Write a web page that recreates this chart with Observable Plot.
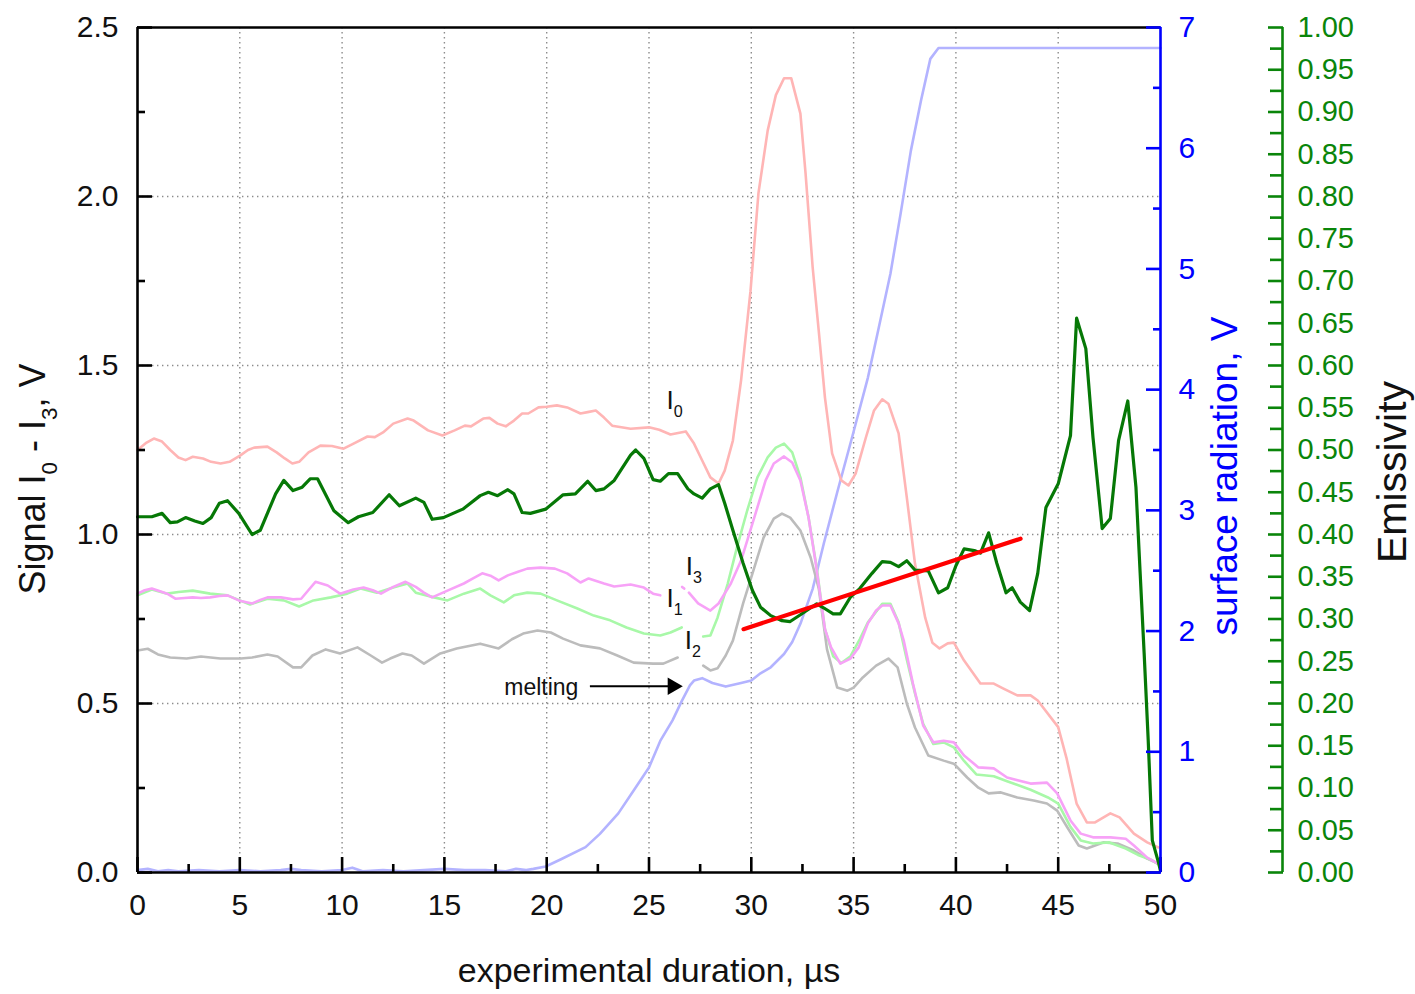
<!DOCTYPE html>
<html>
<head>
<meta charset="utf-8">
<script src="https://cdn.jsdelivr.net/npm/d3@7"></script>
<script src="https://cdn.jsdelivr.net/npm/@observablehq/plot@0.6"></script>
<style>
  html, body { margin: 0; padding: 0; background: #fff; }
  #chart svg { display: block; }
</style>
</head>
<body>
<div id="chart"></div>
<script>
// ---------------- DATA (time in µs, values in native units) ----------------
// Signal I0 (V, left axis)
const I0 = [[0,1.25],[0.4,1.27],[0.8,1.284],[1.2,1.275],[1.6,1.25],[2.0,1.228],[2.35,1.22],[2.7,1.23],[3.2,1.225],[3.6,1.215],[4.06,1.21],[4.5,1.215],[5.03,1.234],[5.4,1.25],[5.7,1.257],[6.35,1.26],[6.8,1.243],[7.2,1.225],[7.57,1.21],[7.9,1.215],[8.36,1.243],[8.94,1.263],[9.5,1.262],[10.07,1.254],[10.56,1.269],[11.24,1.29],[11.6,1.288],[12.0,1.302],[12.5,1.328],[13.2,1.343],[13.5,1.337],[14.2,1.308],[14.9,1.293],[15.5,1.308],[16.0,1.322],[16.3,1.32],[16.9,1.343],[17.2,1.345],[17.6,1.328],[18.0,1.32],[18.4,1.337],[18.8,1.358],[19.1,1.358],[19.6,1.376],[20.0,1.378],[20.5,1.382],[21.0,1.376],[21.65,1.358],[22.0,1.362],[22.4,1.367],[22.8,1.346],[23.2,1.322],[24.1,1.313],[25.0,1.317],[25.5,1.31],[26.05,1.296],[26.8,1.305],[27.2,1.269],[27.6,1.219],[28.0,1.169],[28.4,1.151],[28.7,1.189],[29.1,1.278],[29.5,1.456],[29.96,1.72],[30.35,2.01],[30.8,2.195],[31.2,2.30],[31.6,2.35],[31.95,2.35],[32.4,2.245],[32.65,2.07],[33.0,1.79],[33.3,1.60],[33.6,1.405],[33.95,1.24],[34.4,1.16],[34.75,1.145],[35.1,1.18],[35.6,1.287],[36.0,1.367],[36.4,1.40],[36.7,1.387],[37.2,1.299],[37.6,1.11],[38.0,0.914],[38.5,0.754],[38.85,0.68],[39.2,0.663],[39.6,0.678],[39.9,0.68],[40.4,0.627],[41.2,0.559],[41.85,0.559],[42.3,0.545],[43.0,0.524],[43.65,0.524],[44.0,0.509],[45.0,0.43],[45.4,0.34],[45.9,0.204],[46.4,0.148],[46.8,0.148],[47.55,0.175],[48.0,0.163],[48.7,0.115],[49.35,0.089],[49.9,0.074]];

// Signal I1 (V)
const I1 = [[0,0.82],[0.7,0.837],[1.45,0.825],[2.0,0.83],[2.7,0.834],[3.55,0.825],[4.4,0.82],[5.0,0.805],[5.5,0.793],[6.35,0.81],[7.15,0.805],[7.9,0.787],[8.6,0.805],[9.45,0.814],[10.25,0.825],[10.9,0.84],[11.7,0.828],[12.5,0.843],[13.2,0.855],[13.6,0.828],[14.5,0.814],[15.15,0.805],[15.95,0.825],[16.75,0.84],[17.25,0.82],[17.9,0.799],[18.4,0.82],[19.05,0.828],[19.7,0.825],[20.5,0.805],[21.5,0.781],[22.3,0.76],[23.1,0.746],[23.9,0.725],[24.75,0.707],[25.55,0.701],[26.05,0.71],[26.6,0.725],[27.1,null],[27.65,0.698],[28.0,0.701],[28.35,0.754],[28.85,0.855],[29.3,0.962],[29.8,1.071],[30.3,1.169],[30.8,1.228],[31.2,1.257],[31.6,1.269],[32.0,1.243],[32.4,1.169],[32.8,1.05],[33.2,0.9],[33.6,0.72],[34.0,0.64],[34.4,0.62],[34.85,0.64],[35.3,0.69],[35.7,0.74],[36.4,0.795],[36.8,0.795],[37.2,0.74],[37.6,0.63],[38.0,0.53],[38.4,0.44],[38.9,0.38],[39.4,0.385],[39.9,0.37],[40.4,0.33],[41.0,0.29],[41.85,0.285],[42.5,0.27],[43.65,0.245],[44.5,0.222],[45.0,0.204],[45.6,0.135],[46.1,0.095],[46.7,0.086],[47.5,0.089],[48.3,0.071],[48.9,0.052],[49.6,0.036],[50,0.02]];

// Signal I2 (V)
const I2 = [[0,0.657],[0.5,0.662],[1.0,0.645],[1.6,0.636],[2.4,0.633],[3.1,0.639],[4.05,0.633],[5.05,0.633],[5.6,0.636],[6.35,0.645],[6.85,0.639],[7.6,0.607],[8.0,0.607],[8.55,0.642],[9.2,0.66],[9.9,0.648],[10.75,0.666],[11.4,0.642],[11.95,0.621],[12.35,0.633],[12.95,0.648],[13.4,0.642],[14.0,0.618],[14.8,0.648],[15.6,0.663],[16.75,0.677],[17.65,0.663],[18.3,0.69],[18.85,0.707],[19.55,0.716],[20.2,0.71],[20.8,0.692],[21.65,0.672],[22.6,0.663],[23.45,0.642],[24.25,0.621],[25.2,0.618],[25.7,0.618],[26.4,0.636],[27.0,null],[27.65,0.612],[28.0,0.598],[28.35,0.604],[28.75,0.642],[29.1,0.686],[29.6,0.796],[30.1,0.893],[30.6,0.991],[31.1,1.047],[31.5,1.062],[31.9,1.05],[32.4,1.012],[32.9,0.932],[33.3,0.84],[33.7,0.66],[34.2,0.547],[34.7,0.538],[35.0,0.547],[35.45,0.577],[36.1,0.612],[36.7,0.633],[37.15,0.607],[37.6,0.5],[38.0,0.429],[38.65,0.346],[39.4,0.331],[39.9,0.322],[40.55,0.281],[41.1,0.251],[41.6,0.234],[42.2,0.237],[43.0,0.222],[43.8,0.213],[44.45,0.204],[44.95,0.183],[45.45,0.133],[46.0,0.08],[46.4,0.071],[47.2,0.089],[47.9,0.086],[48.7,0.065],[49.35,0.041],[49.85,0.027]];

// Signal I3 (V)
const I3 = [[0,0.825],[0.35,0.835],[0.7,0.84],[1.1,0.832],[1.45,0.825],[1.85,0.81],[2.3,0.812],[2.7,0.814],[3.1,0.812],[3.55,0.814],[4.0,0.818],[4.4,0.82],[4.95,0.805],[5.6,0.796],[6.0,0.806],[6.35,0.814],[7.0,0.814],[7.6,0.808],[8.0,0.81],[8.35,0.835],[8.7,0.86],[9.3,0.849],[9.9,0.825],[10.55,0.837],[11.05,0.843],[11.5,0.835],[11.9,0.825],[12.5,0.845],[13.1,0.86],[13.6,0.845],[14.0,0.828],[14.4,0.814],[15.15,0.834],[15.95,0.855],[16.4,0.87],[16.85,0.885],[17.25,0.878],[17.65,0.864],[18.1,0.879],[18.6,0.89],[19.05,0.899],[19.7,0.902],[20.4,0.899],[21.0,0.885],[21.65,0.858],[22.05,0.87],[22.8,0.855],[23.3,0.846],[24.1,0.852],[24.75,0.843],[25.2,0.825],[25.55,0.82],[26.1,null],[26.62,0.845],[26.72,0.84],[26.85,null],[26.95,0.828],[27.4,0.796],[28.0,0.775],[28.4,0.796],[29.0,0.855],[29.5,0.923],[30.1,1.041],[30.7,1.16],[31.1,1.21],[31.6,1.231],[32.0,1.213],[32.4,1.16],[32.8,1.05],[33.15,0.914],[33.6,0.72],[33.9,0.666],[34.35,0.618],[34.85,0.633],[35.25,0.666],[35.7,0.737],[36.1,0.775],[36.4,0.79],[36.8,0.79],[37.2,0.737],[37.45,0.686],[37.9,0.559],[38.4,0.435],[38.9,0.385],[39.4,0.39],[39.9,0.385],[40.4,0.346],[41.1,0.311],[41.85,0.308],[42.5,0.281],[43.65,0.263],[44.45,0.266],[44.95,0.234],[45.6,0.154],[46.1,0.115],[46.7,0.104],[47.55,0.104],[48.3,0.10],[48.7,0.08],[49.35,0.044],[49.85,0.027]];

// Surface radiation (V, blue right axis 0–7)
const surfaceRadiation = [[0,0.02],[0.5,0.03],[1,0.01],[1.5,0.02],[2,0.01],[3,0.02],[4,0.01],[5,0.02],[6,0.01],[7,0.02],[7.5,0.03],[8,0.02],[9,0.01],[10,0.02],[10.5,0.04],[11,0.01],[12,0.02],[13,0.01],[14,0.02],[15,0.03],[16,0.02],[17,0.02],[18,0.01],[18.5,0.03],[19,0.02],[19.35,0.03],[19.95,0.05],[20.7,0.11],[21.9,0.21],[22.6,0.32],[23.5,0.49],[24.25,0.68],[25.0,0.87],[25.55,1.09],[26.15,1.26],[26.6,1.42],[27.0,1.55],[27.2,1.59],[27.6,1.61],[28.1,1.57],[28.75,1.54],[29.5,1.57],[30.0,1.59],[30.45,1.65],[30.95,1.70],[31.6,1.81],[32.0,1.91],[32.4,2.06],[33.0,2.35],[33.55,2.73],[34.2,3.15],[34.95,3.62],[35.7,4.10],[36.2,4.49],[36.8,4.96],[37.3,5.46],[37.8,5.98],[38.3,6.40],[38.75,6.74],[39.15,6.83],[50,6.83]];

// Emissivity (0–1, green far-right axis)
const emissivity = [[0,0.421],[0.7,0.421],[1.2,0.425],[1.6,0.414],[1.95,0.415],[2.35,0.42],[2.8,0.416],[3.2,0.413],[3.6,0.42],[4.0,0.437],[4.4,0.44],[4.95,0.425],[5.6,0.40],[6.0,0.405],[6.75,0.448],[7.15,0.464],[7.6,0.452],[8.05,0.456],[8.45,0.466],[8.8,0.466],[9.6,0.428],[10.3,0.414],[10.8,0.421],[11.5,0.426],[12.3,0.447],[12.8,0.434],[13.6,0.443],[14.0,0.438],[14.4,0.418],[14.95,0.42],[15.9,0.43],[16.75,0.446],[17.15,0.45],[17.6,0.446],[18.1,0.453],[18.4,0.448],[18.8,0.426],[19.2,0.425],[19.95,0.43],[20.8,0.447],[21.4,0.448],[22.0,0.463],[22.4,0.452],[22.8,0.454],[23.3,0.464],[24.1,0.494],[24.35,0.50],[24.75,0.49],[25.2,0.465],[25.55,0.463],[25.95,0.472],[26.4,0.472],[26.9,0.454],[27.2,0.448],[27.6,0.443],[28.0,0.454],[28.4,0.459],[28.7,0.437],[29.1,0.405],[29.6,0.366],[30.05,0.334],[30.45,0.314],[30.95,0.304],[31.5,0.298],[31.9,0.297],[32.4,0.305],[33.2,0.318],[33.55,0.313],[34.0,0.306],[34.35,0.306],[34.85,0.326],[35.3,0.336],[35.9,0.354],[36.4,0.368],[36.8,0.367],[37.2,0.362],[37.6,0.369],[38.0,0.358],[38.65,0.357],[39.15,0.331],[39.6,0.337],[40.0,0.363],[40.4,0.383],[40.9,0.381],[41.2,0.378],[41.6,0.402],[42.0,0.366],[42.45,0.331],[42.75,0.337],[43.15,0.32],[43.6,0.31],[44.0,0.354],[44.4,0.432],[45.0,0.46],[45.2,0.479],[45.6,0.517],[45.9,0.656],[46.35,0.62],[46.7,0.515],[47.15,0.407],[47.55,0.419],[47.95,0.511],[48.4,0.558],[48.8,0.456],[49.0,0.357],[49.2,0.26],[49.4,0.156],[49.6,0.038],[49.9,0.012],[50,0.002]];

// Linear trend of emissivity (red)
const emissivityTrend = [[29.62,0.288],[43.16,0.395]];

// Series labels and annotation
const seriesLabels = [
  {name: "I_0", t: 25.85, v: 1.396},
  {name: "I_3", t: 26.8, v: 0.906},
  {name: "I_1", t: 25.85, v: 0.81},
  {name: "I_2", t: 26.75, v: 0.686}
];
const meltingNote = [{text: "melting", t: 21.55, v: 0.547}];
const meltingArrow = [{t1: 22.6, t2: 26.55, v: 0.551}];

// Ticks
const xMajor = [0, 5, 10, 15, 20, 25, 30, 35, 40, 45, 50];
const xMinor = [2.5, 7.5, 12.5, 17.5, 22.5, 27.5, 32.5, 37.5, 42.5, 47.5];
const yMajor = [0, 0.5, 1.0, 1.5, 2.0, 2.5];
const yMinor = [0.25, 0.75, 1.25, 1.75, 2.25];
const radMajor = [0, 1, 2, 3, 4, 5, 6, 7];
const radMinor = [0.5, 1.5, 2.5, 3.5, 4.5, 5.5, 6.5];
const emisMajor = [0, 0.05, 0.10, 0.15, 0.20, 0.25, 0.30, 0.35, 0.40, 0.45, 0.50, 0.55, 0.60, 0.65, 0.70, 0.75, 0.80, 0.85, 0.90, 0.95, 1.00];
const emisMinor = [0.025, 0.075, 0.125, 0.175, 0.225, 0.275, 0.325, 0.375, 0.425, 0.475, 0.525, 0.575, 0.625, 0.675, 0.725, 0.775, 0.825, 0.875, 0.925, 0.975];

// Titles
const xTitle = "experimental duration, µs";
const yTitle = "Signal I_0 - I_3, V";
const radTitle = "surface radiation, V";
const emisTitle = "Emissivity";

// ---------------- CHART ----------------
const Y_MAX = 2.5, RAD_MAX = 7, EMIS_MAX = 1;
const radToY = v => v * Y_MAX / RAD_MAX;
const emisToY = e => e * Y_MAX / EMIS_MAX;
const FONT = "'Liberation Sans', Arial, Helvetica, sans-serif";
const TICK_FS = 30;
const COL = {
  i0: "#ffb5b5", i1: "#a8f8a8", i2: "#bcbcbc", i3: "#f7a2f7",
  rad: "#b3b3ff", emis: "#067806", fit: "#ff0000",
  blue: "#0000ff", green: "#0a850a"
};
const tx = d => d[0];
const grid = {stroke: "#8c8c8c", strokeOpacity: 1, strokeWidth: 1.4, strokeDasharray: "1.4,3.6"};

const chart = Plot.plot({
  width: 1415,
  height: 994,
  marginLeft: 137,
  marginRight: 255,
  marginTop: 27,
  marginBottom: 122,
  x: {domain: [0, 50]},
  y: {domain: [0, 2.5]},
  style: {fontFamily: FONT, fontSize: "28px", background: "#fff", color: "#000", overflow: "visible"},
  marks: [
    Plot.gridX(xMajor.slice(1, -1), grid),
    Plot.gridY(yMajor.slice(1, -1), grid),

    Plot.line(surfaceRadiation, {x: tx, y: d => radToY(d[1]), stroke: COL.rad, strokeWidth: 2.6}),
    Plot.line(I0, {x: tx, y: d => d[1], stroke: COL.i0, strokeWidth: 2.6}),
    Plot.line(I2, {x: tx, y: d => d[1], stroke: COL.i2, strokeWidth: 2.6}),
    Plot.line(I1, {x: tx, y: d => d[1], stroke: COL.i1, strokeWidth: 2.6}),
    Plot.line(I3, {x: tx, y: d => d[1], stroke: COL.i3, strokeWidth: 2.6}),
    Plot.line(emissivity, {x: tx, y: d => emisToY(d[1]), stroke: COL.emis, strokeWidth: 3.2}),
    Plot.line(emissivityTrend, {x: tx, y: d => emisToY(d[1]), stroke: COL.fit, strokeWidth: 4.2}),

    Plot.text(seriesLabels, {x: "t", y: "v", text: "name", textAnchor: "start", fontSize: 26, fill: "#111"}),
    Plot.text(meltingNote, {x: "t", y: "v", text: "text", textAnchor: "end", fontSize: 23, fill: "#111"}),
    Plot.link(meltingArrow, {x1: "t1", y1: "v", x2: "t2", y2: "v", stroke: "#000", strokeWidth: 2, dx: -10}),
    Plot.dot(meltingArrow, {x: "t2", y: "v", symbol: "triangle", rotate: 90, r: 6.5, fill: "#000", stroke: "none", dx: -8}),

    // frame (black)
    Plot.ruleX([0], {stroke: "#000", strokeWidth: 2.6}),
    Plot.ruleY([0, 2.5], {stroke: "#000", strokeWidth: 2.6}),

    // left axis
    Plot.axisY(yMajor, {anchor: "left", tickSize: -15, strokeWidth: 2.6, fill: "none", label: null}),
    Plot.axisY(yMinor, {anchor: "left", tickSize: -8, strokeWidth: 2.6, fill: "none", label: null}),
    Plot.axisY(yMajor, {anchor: "left", tickSize: 0, tickPadding: 19, tickFormat: d3.format(".1f"), fontSize: TICK_FS, fill: "#111", label: null}),

    // bottom axis
    Plot.axisX(xMajor, {anchor: "bottom", tickSize: -15, strokeWidth: 2.6, fill: "none", label: null}),
    Plot.axisX(xMinor, {anchor: "bottom", tickSize: -8, strokeWidth: 2.6, fill: "none", label: null}),
    Plot.axisX(xMajor, {anchor: "bottom", tickSize: 0, tickPadding: 21, tickFormat: d3.format("d"), fontSize: TICK_FS, fill: "#111", label: null}),

    // blue right axis (surface radiation)
    Plot.ruleX([50], {stroke: COL.blue, strokeWidth: 2.6}),
    Plot.axisY(radMajor.map(radToY), {anchor: "right", tickSize: -15, stroke: COL.blue, strokeWidth: 2.6, fill: "none", label: null}),
    Plot.axisY(radMinor.map(radToY), {anchor: "right", tickSize: -8, stroke: COL.blue, strokeWidth: 2.6, fill: "none", label: null}),
    Plot.axisY(radMajor.map(radToY), {anchor: "right", tickSize: 0, tickPadding: 18, fill: COL.blue, fontSize: TICK_FS, label: null,
      tickFormat: d => d3.format("d")(Math.round(d * RAD_MAX / Y_MAX))}),

    // green far-right axis (emissivity)
    Plot.ruleX([50], {dx: 122, stroke: COL.green, strokeWidth: 2.6}),
    Plot.axisY(emisMajor.map(emisToY), {anchor: "right", dx: 122, tickSize: -15, stroke: COL.green, strokeWidth: 2.6, fill: "none", label: null}),
    Plot.axisY(emisMinor.map(emisToY), {anchor: "right", dx: 122, tickSize: -13, stroke: COL.green, strokeWidth: 2.6, fill: "none", label: null}),
    Plot.axisY(emisMajor.map(emisToY), {anchor: "right", dx: 122, tickSize: 0, tickPadding: 15, fill: COL.green, fontSize: TICK_FS - 1, label: null,
      tickFormat: d => d3.format(".2f")(d * EMIS_MAX / Y_MAX)}),

    // axis titles
    Plot.text([xTitle], {frameAnchor: "bottom", textAnchor: "middle", dy: 109, fontSize: 34, fill: "#111"}),
    Plot.text([yTitle], {frameAnchor: "left", textAnchor: "middle", rotate: -90, dx: -104, dy: 29, fontSize: 36, fill: "#111"}),
    Plot.text([radTitle], {frameAnchor: "right", textAnchor: "middle", rotate: -90, dx: 65, dy: 26, fontSize: 37, fill: COL.blue}),
    Plot.text([emisTitle], {frameAnchor: "right", textAnchor: "middle", rotate: -90, dx: 232, dy: 22, fontSize: 41, fill: "#111"})
  ]
});

// Render "_d" markers as real subscript text
function subscriptify(svg) {
  const NS = "http://www.w3.org/2000/svg";
  svg.querySelectorAll("text").forEach(el => {
    const s = el.textContent;
    if (!/_\d/.test(s)) return;
    const fs = parseFloat(getComputedStyle(el).fontSize) || 28;
    const shift = 0.32 * fs;
    const parts = s.split(/_(\d)/);
    el.textContent = "";
    let down = false;
    parts.forEach((p, i) => {
      if (!p) return;
      const ts = document.createElementNS(NS, "tspan");
      ts.textContent = p;
      if (i % 2 === 1) {
        ts.setAttribute("font-size", (0.62 * fs).toFixed(1) + "px");
        ts.setAttribute("dy", shift.toFixed(1));
        down = true;
      } else if (down) {
        ts.setAttribute("dy", (-shift).toFixed(1));
        down = false;
      }
      el.appendChild(ts);
    });
  });
}

document.getElementById("chart").appendChild(chart);
subscriptify(chart);
</script>
</body>
</html>
